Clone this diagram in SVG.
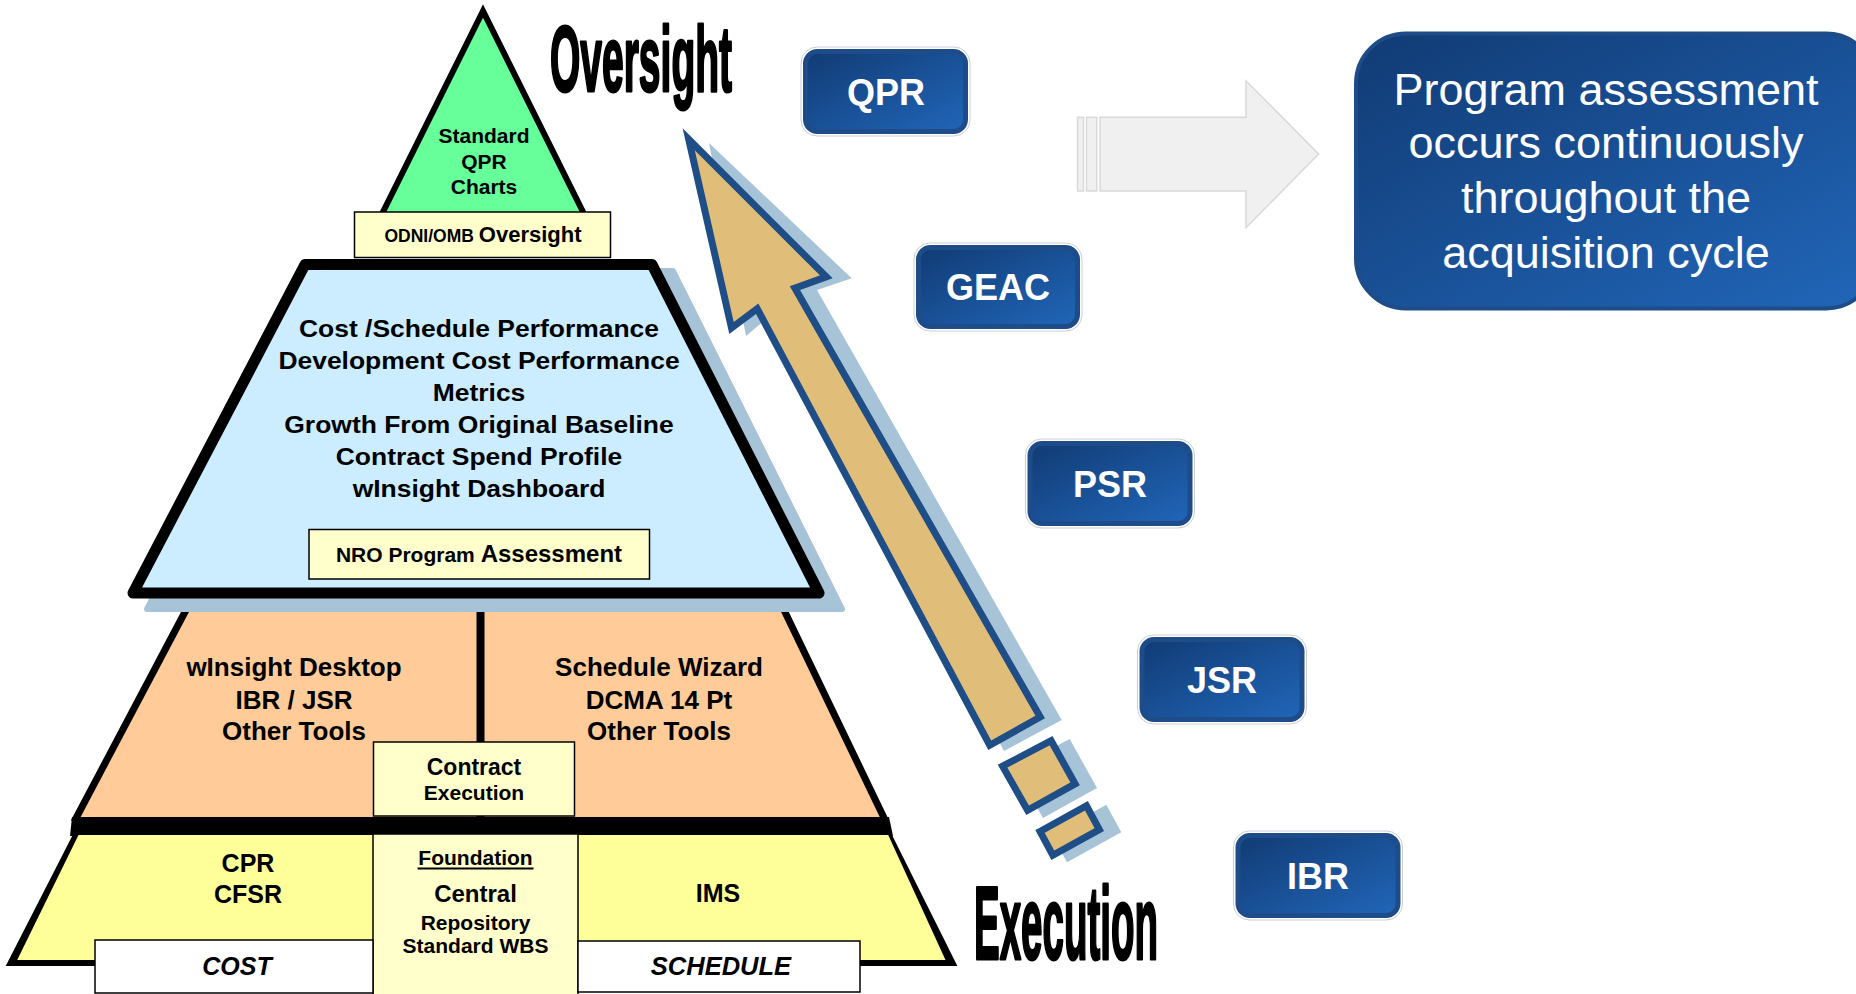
<svg xmlns="http://www.w3.org/2000/svg" width="1856" height="994" viewBox="0 0 1856 994">
  <defs>
    <linearGradient id="boxGrad" x1="0" y1="0" x2="1" y2="1">
      <stop offset="0" stop-color="#113B74"/>
      <stop offset="1" stop-color="#2166B9"/>
    </linearGradient>
    <style>
      text { font-family: "Liberation Sans", Arial, Helvetica, sans-serif; font-weight: bold; fill: #000; }
      .mid { text-anchor: middle; }
      .pale { fill: #FFFFCC; }
      .tag rect.face { fill: url(#boxGrad); stroke: #1E4C88; stroke-width: 5; }
      .tag rect.rim { fill: none; stroke: #C9CED6; stroke-width: 1; }
      .tag text { fill: #fff; font-size: 36px; text-anchor: middle; }
      .note text { fill: #fff; font-weight: normal; font-size: 45px; text-anchor: middle; }
      .big { font-family: "Liberation Sans Narrow", "Liberation Sans", Arial, sans-serif; stroke: #000; stroke-width: 3; stroke-linejoin: round; }
      .arrow { fill: #E0BE79; stroke: #1F4E86; stroke-width: 7; stroke-linejoin: miter; }
      .arrowShadow { fill: #A6C3D7; }
    </style>
  </defs>

  <rect width="1856" height="994" fill="#fff"/>

  <!-- tool layer (orange) -->
  <g id="tools">
    <polygon points="191,600 779,600 886,818 74,818" fill="#FFCC99"/>
    <line x1="191.3" y1="600" x2="74" y2="822" stroke="#000" stroke-width="7"/>
    <line x1="779.2" y1="600" x2="886" y2="822" stroke="#000" stroke-width="7"/>
    <line x1="480.5" y1="600" x2="480.5" y2="818" stroke="#000" stroke-width="8"/>
    <text class="mid" x="294" y="676" font-size="26">wInsight Desktop</text>
    <text class="mid" x="294" y="709" font-size="26">IBR / JSR</text>
    <text class="mid" x="294" y="740" font-size="26">Other Tools</text>
    <text class="mid" x="659" y="676" font-size="26">Schedule Wizard</text>
    <text class="mid" x="659" y="709" font-size="26">DCMA 14 Pt</text>
    <text class="mid" x="659" y="740" font-size="26">Other Tools</text>
  </g>

  <!-- assessment layer (blue) -->
  <g id="assessment">
    <polygon points="320,271 673,271 842,609 147,609" fill="#A6C3D7" stroke="#A6C3D7" stroke-width="6" stroke-linejoin="round"/>
    <polygon points="305,264.5 652,264.5 819,593 133,593" fill="#CCECFF" stroke="#000" stroke-width="11" stroke-linejoin="round"/>
    <g transform="translate(479,0) scale(1.08,1)" font-size="24.5">
      <text class="mid" x="0" y="337">Cost /Schedule Performance</text>
      <text class="mid" x="0" y="369">Development Cost Performance</text>
      <text class="mid" x="0" y="401">Metrics</text>
      <text class="mid" x="0" y="433">Growth From Original Baseline</text>
      <text class="mid" x="0" y="465">Contract Spend Profile</text>
      <text class="mid" x="0" y="497">wInsight Dashboard</text>
    </g>
  </g>

  <g id="nro-assessment">
    <rect class="pale" x="309" y="529.5" width="340.5" height="49.5" stroke="#000" stroke-width="1.5"/>
    <text class="mid" x="479" y="562"><tspan font-size="21">NRO Program </tspan><tspan font-size="24">Assessment</tspan></text>
  </g>

  <!-- oversight apex (green) -->
  <g id="apex">
    <polygon points="483,11 374,230 592,230" fill="#66FF99" stroke="#000" stroke-width="6"/>
    <text class="mid" x="484" y="143" font-size="21">Standard</text>
    <text class="mid" x="484" y="169" font-size="21">QPR</text>
    <text class="mid" x="484" y="194" font-size="21">Charts</text>
  </g>

  <g id="odni-oversight">
    <rect class="pale" x="354.5" y="212" width="256" height="45.5" stroke="#000" stroke-width="1.5"/>
    <text class="mid" x="483" y="242"><tspan font-size="17.5">ODNI/OMB </tspan><tspan font-size="22">Oversight</tspan></text>
  </g>

  <!-- data layer (yellow base) -->
  <g id="data">
    <polygon points="72,817 889,817 893,836 70,836" fill="#000"/>
    <polygon points="72.7,835 892,835 957.4,966 5.7,966" fill="#000"/>
    <polygon points="78.5,835 888.2,835 945.5,960 17.2,960" fill="#FFFF99"/>
    <text class="mid" x="248" y="872" font-size="25">CPR</text>
    <text class="mid" x="248" y="903" font-size="25">CFSR</text>
    <text class="mid" x="718" y="902" font-size="25">IMS</text>
  </g>

  <g id="foundation">
    <rect class="pale" x="373" y="834" width="205" height="170" stroke="#000" stroke-width="1.5"/>
    <text class="mid" x="475.5" y="865" font-size="21">Foundation</text>
    <line x1="417.5" y1="868.5" x2="533.5" y2="868.5" stroke="#000" stroke-width="1.8"/>
    <text class="mid" x="475.5" y="902" font-size="24">Central</text>
    <text class="mid" x="475.5" y="930" font-size="21">Repository</text>
    <text class="mid" x="475.5" y="953" font-size="21">Standard WBS</text>
  </g>

  <g id="cost">
    <rect x="95" y="940" width="278" height="53" fill="#fff" stroke="#000" stroke-width="1.5"/>
    <text class="mid" x="237" y="975" font-size="25" font-style="italic">COST</text>
  </g>

  <g id="schedule">
    <rect x="578" y="941" width="282" height="51" fill="#fff" stroke="#000" stroke-width="1.5"/>
    <text class="mid" x="721" y="975" font-size="25.5" font-style="italic">SCHEDULE</text>
  </g>

  <g id="contract-execution">
    <rect class="pale" x="373.5" y="742" width="201" height="74" stroke="#000" stroke-width="1.5"/>
    <text class="mid" x="474" y="775" font-size="23">Contract</text>
    <text class="mid" x="474" y="800" font-size="21">Execution</text>
  </g>

  <!-- rising arrow from execution to oversight -->
  <g id="connectors">
    <polygon class="arrowShadow" points="709,143 851.7,278.3 817,290 1061.7,720 1004,751 772,314 746,336"/>
    <polygon class="arrowShadow" points="1014.7,768 1069.7,739 1097,788 1043,818"/>
    <polygon class="arrowShadow" points="1052,834.7 1106.3,804.7 1121.3,832.3 1067,862.3"/>
    <polygon class="arrow" points="688.7,139.3 826.3,276.9 794.9,288.1 1040.2,717 989.7,745.2 757.2,308.7 731.5,328"/>
    <polygon class="arrow" points="1002.6,766.2 1051.1,740.7 1075.1,783.8 1027.6,810.3"/>
    <polygon class="arrow" points="1040,831.5 1086.5,805.8 1099.3,829.5 1052.8,855.2"/>
  </g>

  <!-- review milestones -->
  <g id="qpr" class="tag">
    <rect class="rim" x="801" y="47" width="169" height="89" rx="16"/>
    <rect class="face" x="805.5" y="51.5" width="160" height="80" rx="12"/>
    <text x="886" y="105">QPR</text>
  </g>
  <g id="geac" class="tag">
    <rect class="rim" x="914" y="243" width="168" height="88" rx="16"/>
    <rect class="face" x="918.5" y="247.5" width="159" height="79" rx="12"/>
    <text x="998" y="300">GEAC</text>
  </g>
  <g id="psr" class="tag">
    <rect class="rim" x="1025.5" y="439" width="169" height="89" rx="16"/>
    <rect class="face" x="1030" y="443.5" width="160" height="80" rx="12"/>
    <text x="1110" y="497">PSR</text>
  </g>
  <g id="jsr" class="tag">
    <rect class="rim" x="1137.5" y="635" width="169" height="89" rx="16"/>
    <rect class="face" x="1142" y="639.5" width="160" height="80" rx="12"/>
    <text x="1222" y="693">JSR</text>
  </g>
  <g id="ibr" class="tag">
    <rect class="rim" x="1233.5" y="831" width="169" height="89" rx="16"/>
    <rect class="face" x="1238" y="835.5" width="160" height="80" rx="12"/>
    <text x="1318" y="889">IBR</text>
  </g>

  <!-- outgoing grey arrow -->
  <g id="flow-arrow" fill="#F0F0F0" stroke="#D9D9D9" stroke-width="1.5">
    <rect x="1077.5" y="117.3" width="6" height="73.7"/>
    <rect x="1086.5" y="117.3" width="10.3" height="73.7"/>
    <polygon points="1100,117.3 1246,117.3 1246,80.7 1318.6,154 1246,227.7 1246,191 1100,191"/>
  </g>

  <g id="summary" class="note">
    <rect x="1356" y="33.5" width="520" height="275" rx="50" fill="url(#boxGrad)" stroke="#1E4C88" stroke-width="4"/>
    <text x="1606" y="105">Program assessment</text>
    <text x="1606" y="158">occurs continuously</text>
    <text x="1606" y="213">throughout the</text>
    <text x="1606" y="268">acquisition cycle</text>
  </g>

  <!-- condensed heavy captions: drawn at double width, then squeezed -->
  <g id="oversight-label" transform="translate(550,91) scale(0.5,1)">
    <text class="big" x="0" y="0" font-size="92" textLength="364" lengthAdjust="spacingAndGlyphs" style="stroke-width:3">Oversight</text>
  </g>
  <g id="execution-label" transform="translate(974,959) scale(0.5,1)">
    <text class="big" x="0" y="0" font-size="104" textLength="368" lengthAdjust="spacingAndGlyphs" style="stroke-width:3">Execution</text>
  </g>
</svg>
